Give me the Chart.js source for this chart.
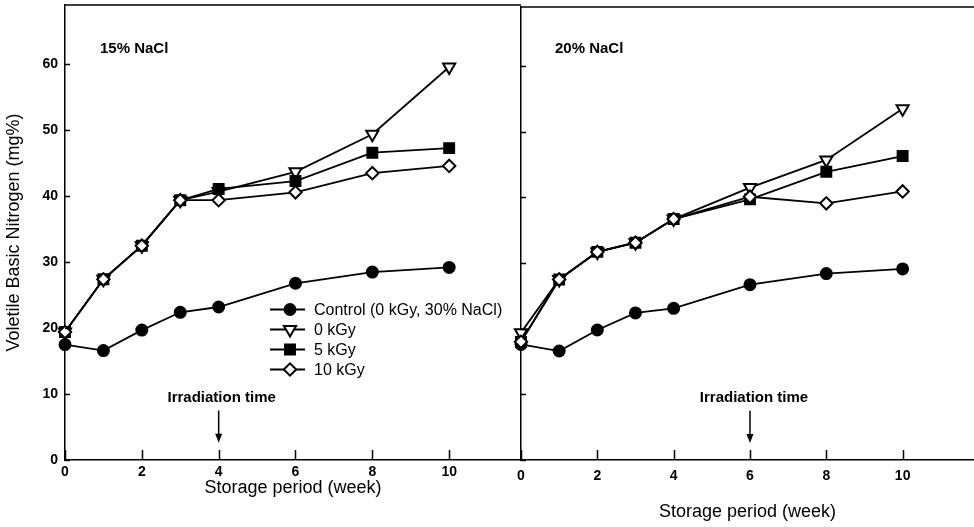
<!DOCTYPE html>
<html><head><meta charset="utf-8">
<script src="https://cdn.jsdelivr.net/npm/chart.js@4.4.0/dist/chart.umd.min.js"></script>
<style>
html,body{margin:0;padding:0;background:#fff;}
#wrap{position:relative;width:974px;height:527px;overflow:hidden;background:#fff;}
#c1{position:absolute;left:0;top:0;width:522px;height:527px;}
#c2{position:absolute;left:500px;top:0;width:474px;height:527px;}
</style></head><body>
<div id="wrap">
<canvas id="c1" width="522" height="527"></canvas>
<canvas id="c2" width="474" height="527"></canvas>
</div>
<script>
// ---- data ----
const weeks = [0, 1, 2, 3, 4, 6, 8, 10];
const xTickValues = [0, 2, 4, 6, 8, 10];
const yTickValues = [0, 10, 20, 30, 40, 50, 60];
const seriesNames = ['Control (0 kGy, 30% NaCl)', '0 kGy', '5 kGy', '10 kGy'];
const panelNames = ['15% NaCl', '20% NaCl'];
const irradiationWeeks = [4, 6];

const control15 = [17.5, 16.6, 19.7, 22.4, 23.2, 26.8, 28.5, 29.2];
const kgy0_15   = [19.4, 27.4, 32.5, 39.4, 40.7, 43.7, 49.4, 59.6];
const kgy5_15   = [19.4, 27.4, 32.5, 39.4, 41.1, 42.3, 46.6, 47.3];
const kgy10_15  = [19.4, 27.4, 32.5, 39.4, 39.4, 40.6, 43.5, 44.6];

const control20 = [17.6, 16.6, 19.8, 22.4, 23.1, 26.7, 28.4, 29.1];
const kgy0_20   = [19.4, 27.5, 31.7, 33.1, 36.7, 41.5, 45.7, 53.5];
const kgy5_20   = [18.0, 27.5, 31.7, 33.1, 36.7, 39.7, 43.9, 46.3];
const kgy10_20  = [18.0, 27.5, 31.7, 33.1, 36.7, 40.1, 39.1, 40.9];

// ---- styles ----
const FONT = "'Liberation Sans', Arial, sans-serif";
const styles = [
  {pointStyle: 'circle', radius: 5.5, rotation: 0, fill: '#000', order: 1},
  {pointStyle: 'triangle', radius: 7, rotation: 180, fill: '#fff', order: 3},
  {pointStyle: 'rect', radius: 7, rotation: 0, fill: '#000', order: 2},
  {pointStyle: 'rectRot', radius: 6.2, rotation: 0, fill: '#fff', order: 0}
];

function buildDatasets(arrs) {
  return arrs.map((vals, i) => ({
    label: seriesNames[i],
    data: weeks.map((w, j) => ({x: w, y: vals[j]})),
    borderColor: '#000',
    borderWidth: 1.8,
    tension: 0,
    fill: false,
    clip: false,
    pointStyle: styles[i].pointStyle,
    pointRadius: styles[i].radius,
    pointRotation: styles[i].rotation,
    pointBackgroundColor: styles[i].fill,
    pointBorderColor: '#000',
    pointBorderWidth: 2,
    order: styles[i].order
  }));
}

function zeroPad(s) { s.paddingTop = 0; s.paddingBottom = 0; s.paddingLeft = 0; s.paddingRight = 0; }

const decoPlugin = {
  id: 'panelDeco',
  afterDraw(chart, args, o) {
    const ctx = chart.ctx;
    const xs = chart.scales.x, ys = chart.scales.y;
    const a = chart.chartArea;
    ctx.save();
    ctx.strokeStyle = '#000';
    ctx.fillStyle = '#000';
    // inward tick marks
    ctx.lineWidth = 1.5;
    ctx.beginPath();
    xTickValues.forEach(v => {
      const px = Math.round(xs.getPixelForValue(v)) + 0.5;
      ctx.moveTo(px, a.bottom); ctx.lineTo(px, a.bottom - 10);
    });
    yTickValues.forEach(v => {
      const py = Math.round(ys.getPixelForValue(v)) + 0.5;
      ctx.moveTo(a.left, py); ctx.lineTo(a.left + 5, py);
    });
    // top border
    ctx.moveTo(a.left, a.top); ctx.lineTo(a.right, a.top);
    ctx.stroke();
    // panel label
    ctx.font = 'bold 15px ' + FONT;
    ctx.textAlign = 'left';
    ctx.textBaseline = 'middle';
    ctx.fillText(o.label, o.labelX, o.labelY);
    // irradiation annotation
    const ax = xs.getPixelForValue(o.irr);
    ctx.textAlign = 'center';
    ctx.fillText('Irradiation time', ax + o.textShift, ys.getPixelForValue(9.4));
    const y1 = ys.getPixelForValue(7.5), y2 = ys.getPixelForValue(2.6);
    ctx.lineWidth = 1.5;
    ctx.beginPath(); ctx.moveTo(ax, y1); ctx.lineTo(ax, y2 - 6); ctx.stroke();
    ctx.beginPath(); ctx.moveTo(ax - 3.5, y2 - 9); ctx.lineTo(ax + 3.5, y2 - 9); ctx.lineTo(ax, y2); ctx.closePath(); ctx.fill();
    // legend
    if (o.legend) {
      const L = o.legend;
      chart.data.datasets.forEach((ds, i) => {
        const y = L.y + i * L.dy;
        ctx.strokeStyle = '#000';
        ctx.lineWidth = 1.8;
        ctx.beginPath(); ctx.moveTo(L.x, y); ctx.lineTo(L.x + 35, y); ctx.stroke();
        ctx.fillStyle = ds.pointBackgroundColor;
        ctx.strokeStyle = '#000';
        ctx.lineWidth = 2;
        Chart.helpers.drawPoint(ctx, {pointStyle: ds.pointStyle, radius: ds.pointRadius, rotation: ds.pointRotation, borderWidth: 2}, L.x + 20, y);
        ctx.fillStyle = '#000';
        ctx.font = '16px ' + FONT;
        ctx.textAlign = 'left';
        ctx.textBaseline = 'middle';
        ctx.fillText(ds.label, L.x + 44, y + 1);
      });
    }
    ctx.restore();
  }
};

function makeChart(id, arrs, cfg) {
  return new Chart(document.getElementById(id), {
    type: 'line',
    data: {datasets: buildDatasets(arrs)},
    options: {
      responsive: false,
      animation: false,
      events: [],
      layout: {autoPadding: false, padding: {left: 0, right: cfg.padRight, top: cfg.padTop, bottom: 0}},
      plugins: {legend: {display: false}, tooltip: {enabled: false}, panelDeco: cfg.deco},
      scales: {
        x: {
          type: 'linear', min: 0, max: 11.87,
          afterBuildTicks: s => { s.ticks = xTickValues.map(v => ({value: v})); },
          afterFit: s => { s.height = 67; zeroPad(s); },
          grid: {display: false, drawTicks: false},
          border: {display: true, color: '#000', width: 1.5},
          ticks: {color: '#000', font: {family: FONT, weight: 'bold', size: 14}, padding: cfg.xPad, maxRotation: 0, autoSkip: false},
          title: {display: true, text: 'Storage period (week)', color: '#000', font: {family: FONT, size: 18}, padding: {top: 0, bottom: cfg.xTitlePad}}
        },
        y: {
          type: 'linear', min: 0, max: 69,
          afterBuildTicks: s => { s.ticks = yTickValues.map(v => ({value: v})); },
          afterFit: s => { s.width = cfg.yWidth; zeroPad(s); },
          grid: {display: false, drawTicks: false},
          border: {display: true, color: '#000', width: 1.5},
          ticks: {display: cfg.yLabels, color: '#000', font: {family: FONT, weight: 'bold', size: 14}, padding: 7, autoSkip: false},
          title: {display: cfg.yLabels, text: 'Voletile Basic Nitrogen (mg%)', color: '#000', font: {family: FONT, size: 18}, padding: {top: 3, bottom: 0}}
        }
      }
    },
    plugins: [decoPlugin]
  });
}

makeChart('c1', [control15, kgy0_15, kgy5_15, kgy10_15], {
  padRight: 1, padTop: 5, xPad: 4, xTitlePad: 28, yWidth: 65, yLabels: true,
  deco: {label: panelNames[0], labelX: 100, labelY: 49, irr: irradiationWeeks[0], textShift: 3,
         legend: {x: 270, y: 309.5, dy: 20}}
});
makeChart('c2', [control20, kgy0_20, kgy5_20, kgy10_20], {
  padRight: 0, padTop: 7, xPad: 8, xTitlePad: 4, yWidth: 21, yLabels: false,
  deco: {label: panelNames[1], labelX: 55, labelY: 49, irr: irradiationWeeks[1], textShift: 4, legend: null}
});
</script>
</body></html>
